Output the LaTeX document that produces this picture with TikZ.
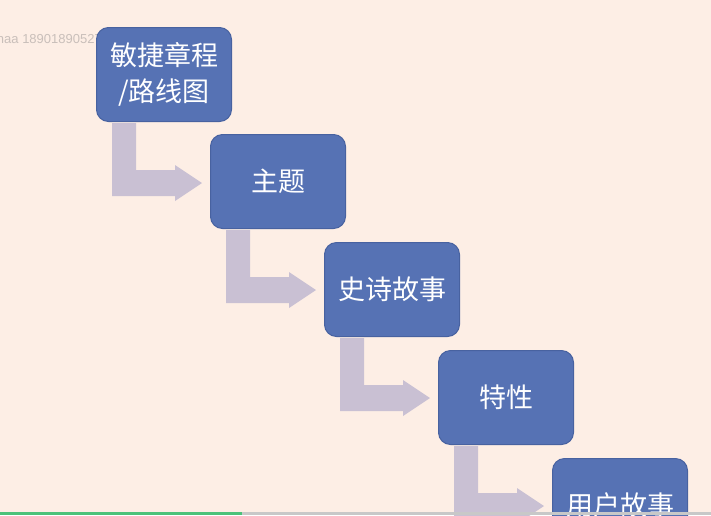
\documentclass[tikz,border=0pt]{standalone}
\usepackage{fontspec}
\setmainfont{Liberation Sans}
\newfontfamily\cjk{Noto Sans CJK SC}
\usetikzlibrary{calc}
\definecolor{bg}{HTML}{FDEEE5}
\definecolor{boxfill}{HTML}{5672B4}
\definecolor{boxline}{HTML}{4862A0}
\definecolor{arrowc}{HTML}{C9C0D3}
\definecolor{wmc}{HTML}{C9BFBA}
\definecolor{barg}{HTML}{4CC27A}
\definecolor{bargray}{HTML}{C8C8C8}
\tikzset{
  stepbox/.style={draw=boxline, line width=1pt, fill=boxfill, rounded corners=12pt,
    minimum width=135pt, minimum height=94pt, inner sep=0pt, text=white,
    font=\cjk\fontsize{27}{36}\selectfont, align=center, anchor=north west},
  bentarrow/.style={fill=arrowc},
}
\begin{document}
\begin{tikzpicture}[x=1pt,y=-1pt]
\clip (0,0) rectangle (711,515);
\fill[bg] (0,0) rectangle (711,515);
\node[anchor=east, text=wmc, font=\fontsize{13}{15}\selectfont, inner sep=0pt] (wm) at (102,39) {naa 18901890527};
\node[stepbox] (b1) at (96,27) {敏捷章程\\/路线图};
\node[stepbox] (b2) at (210,134) {主题};
\node[stepbox] (b3) at (324,242) {史诗故事};
\node[stepbox] (b4) at (438,350) {特性};
\node[stepbox] (b5) at (552,458) {用户故事};
\foreach \a in {b1,b2,b3,b4}{
  \fill[bentarrow] ($(\a.south west)+(16,1)$) -- ($(\a.south west)+(40,1)$)
    -- ($(\a.south west)+(40,48)$) -- ($(\a.south west)+(79,48)$)
    -- ($(\a.south west)+(79,43)$) -- ($(\a.south west)+(106,61)$)
    -- ($(\a.south west)+(79,79)$) -- ($(\a.south west)+(79,74)$)
    -- ($(\a.south west)+(16,74)$) -- cycle;
}
\fill[barg] (0,512) rectangle (242,515);
\fill[bargray] (242,512) rectangle (711,515);
\end{tikzpicture}
\end{document}
